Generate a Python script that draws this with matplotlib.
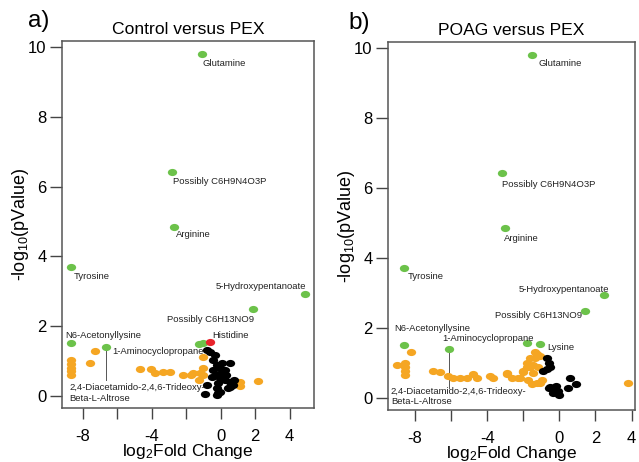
import matplotlib
matplotlib.use("Agg")
import matplotlib.pyplot as plt
from matplotlib.path import Path
import numpy as np

plt.rcParams['font.family'] = ['Liberation Sans', 'DejaVu Sans']

GREEN = '#6cc24a'
ORANGE = '#f5a623'
RED = '#e8232b'

# ---- panel a: Control versus PEX ----
a_green_x = [-1.1, -2.8, -2.72, -8.65, 4.87, 1.9, -8.7, -6.67, -1.25, -1.0]
a_green_y = [9.8, 6.42, 4.84, 3.7, 2.92, 2.49, 1.52, 1.4, 1.48, 1.52]
a_red_x = [-0.6]
a_red_y = [1.55]
a_orange_x = [-7.3, -8.7, -8.7, -8.7, -8.7, -8.7, -7.55, -4.7, -4.06, -3.83, -3.36,
              -2.96, -2.2, -1.7, -1.27, -1.05, -1.04, -1.6, -1.2, -1.04, 1.1, 1.1, 2.15]
a_orange_y = [1.29, 1.02, 0.9, 0.8, 0.7, 0.6, 0.94, 0.77, 0.77, 0.66, 0.69,
              0.69, 0.6, 0.6, 0.46, 1.12, 0.6, 0.66, 0.66, 0.8, 0.4, 0.29, 0.43]
a_black_x = [-0.8, -0.64, -0.35, -0.46, -0.23, -0.06, -0.46, 0.06, 0.23, -0.23, -0.52,
             -0.06, 0.23, 0.52, -0.17, 0.7, -0.23, 0.41, -0.06, -0.23, 0.1, 0.52,
             0.8, 0.52, -0.8, -0.93, -0.17, 0.3]
a_black_y = [1.32, 1.26, 1.17, 1.03, 0.89, 0.8, 0.74, 0.69, 0.74, 0.6, 0.54,
             0.52, 0.46, 0.4, 0.37, 0.32, 0.23, 0.23, 0.11, 0.03, 0.95, 0.95,
             0.46, 0.26, 0.32, 0.06, 0.09, 0.6]
a_labels = ['Glutamine', 'Possibly C6H9N4O3P', 'Arginine', 'Tyrosine',
            '5-Hydroxypentanoate', 'Possibly C6H13NO9', 'Histidine',
            'N6-Acetonyllysine', '1-Aminocyclopropane',
            '2,4-Diacetamido-2,4,6-Trideoxy-\nBeta-L-Altrose']
a_label_x = [-1.04, -2.78, -2.6, -8.52, 4.98, -3.13, -0.46, -9.0, -6.26, -8.75]
a_label_y = [9.54, 6.13, 4.61, 3.41, 3.12, 2.18, 1.72, 1.72, 1.26, 0.07]
a_label_ha = ['left', 'left', 'left', 'left', 'right', 'left', 'left', 'left', 'left', 'left']
a_leader_x = -6.67
a_leader_y = [1.33, 0.46]

# ---- panel b: POAG versus PEX ----
b_green_x = [-1.5, -3.17, -3.0, -8.6, 2.5, 1.44, -8.6, -6.1, -1.78, -1.05]
b_green_y = [9.8, 6.42, 4.84, 3.7, 2.92, 2.47, 1.49, 1.4, 1.55, 1.52]
b_orange_x = [-8.2, -9.0, -8.55, -8.55, -8.55, -8.55, -7.0, -6.6, -6.15, -5.9, -5.5,
              -5.1, -4.8, -4.56, -3.83, -3.67, -2.9, -2.6, -2.17, -2.0, -1.78, -1.6,
              -1.33, -1.05, -1.44, -1.17, -1.72, -1.22, -0.94, 3.83, -2.9, -2.3,
              -2.0, -1.6, -1.44, -1.05, -1.5, -1.22, -1.33, -1.8]
b_orange_y = [1.29, 0.92, 1.0, 0.88, 0.76, 0.64, 0.77, 0.72, 0.63, 0.57, 0.57,
              0.57, 0.66, 0.57, 0.63, 0.57, 0.66, 0.57, 0.57, 0.77, 0.86, 1.12,
              1.29, 1.2, 0.92, 0.86, 0.49, 0.43, 0.49, 0.43, 0.69, 0.57,
              0.72, 0.86, 0.69, 0.43, 0.4, 1.26, 1.12, 0.98]
b_black_x = [-0.67, -0.55, -0.67, -0.9, -0.5, 0.6, 0.9, 0.5, -0.5, -0.33, -0.1,
             0.0, -0.33, -0.6, -0.2]
b_black_y = [1.12, 1.0, 0.83, 0.75, 0.86, 0.57, 0.4, 0.26, 0.29, 0.26, 0.2,
             0.06, 0.14, 0.26, 0.32]
b_labels = ['Glutamine', 'Possibly C6H9N4O3P', 'Arginine', 'Tyrosine',
            '5-Hydroxypentanoate', 'Possibly C6H13NO9', 'N6-Acetonyllysine',
            '1-Aminocyclopropane', 'Lysine',
            '2,4-Diacetamido-2,4,6-Trideoxy-\nBeta-L-Altrose']
b_label_x = [-1.17, -3.17, -3.06, -8.4, 2.78, 1.28, -9.17, -6.5, -0.67, -9.33]
b_label_y = [9.57, 6.1, 4.56, 3.47, 3.09, 2.35, 1.98, 1.69, 1.43, 0.03]
b_label_ha = ['left', 'left', 'left', 'left', 'right', 'right', 'left', 'left', 'left', 'left']
b_leader_x = -6.1
b_leader_y = [1.33, 0.26]

x_ticks = [-8, -6, -4, -2, 0, 2, 4]
x_ticklabels = ['-8', '', '-4', '', '0', '2', '4']
y_ticks = [0, 2, 4, 6, 8, 10]

circ = Path.unit_circle()
ellipse = Path(circ.vertices * np.array([1.3, 1.0]), circ.codes)


def volcano(ax, title, xlim, gx, gy, ox, oy, bx, by, labels, lx, ly, lha,
            leader_x, leader_y, rx=None, ry=None):
    ax.scatter(ox, oy, s=45, marker=ellipse, color=ORANGE, linewidths=0, zorder=2)
    ax.scatter(bx, by, s=45, marker=ellipse, color='black', linewidths=0, zorder=3)
    ax.scatter(gx, gy, s=45, marker=ellipse, color=GREEN, linewidths=0, zorder=4)
    if rx is not None:
        ax.scatter(rx, ry, s=45, marker=ellipse, color=RED, linewidths=0, zorder=4)
    ax.plot([leader_x, leader_x], leader_y, color='#555555', lw=0.7, zorder=1)
    for t, x, y, ha in zip(labels, lx, ly, lha):
        ax.text(x, y, t, fontsize=6.8, ha=ha, va='center', color='#222222',
                linespacing=1.25, zorder=5)
    ax.set_xlim(xlim)
    ax.set_ylim(-0.35, 10.17)
    ax.set_xticks(x_ticks)
    ax.set_xticklabels(x_ticklabels)
    ax.set_yticks(y_ticks)
    ax.tick_params(direction='out', labelsize=12, color='#444444', width=1)
    ax.tick_params(axis='y', length=9, pad=2)
    ax.tick_params(axis='x', length=8, pad=7)
    for s in ax.spines.values():
        s.set_color('#555555')
        s.set_linewidth(1.1)
    ax.set_xlabel(r'log$\mathregular{_2}$Fold Change', fontsize=12.5, labelpad=-1)
    ax.set_ylabel(r'-log$\mathregular{_{10}}$(pValue)', fontsize=13, labelpad=-2)
    ax.set_title(title, fontsize=12.6, pad=5)


fig = plt.figure(figsize=(6.39, 4.62), dpi=100)
ax1 = fig.add_axes([0.097, 0.117, 0.394, 0.794])
ax2 = fig.add_axes([0.607, 0.113, 0.387, 0.796])

volcano(ax1, 'Control versus PEX', (-9.2, 5.4), a_green_x, a_green_y,
        a_orange_x, a_orange_y, a_black_x, a_black_y, a_labels, a_label_x,
        a_label_y, a_label_ha, a_leader_x, a_leader_y, a_red_x, a_red_y)
volcano(ax2, 'POAG versus PEX', (-9.5, 4.2), b_green_x, b_green_y,
        b_orange_x, b_orange_y, b_black_x, b_black_y, b_labels, b_label_x,
        b_label_y, b_label_ha, b_leader_x, b_leader_y)

fig.text(0.044, 0.955, 'a)', fontsize=17.5, ha='left', va='center')
fig.text(0.545, 0.951, 'b)', fontsize=17.5, ha='left', va='center')

fig.savefig('out.png', dpi=100)
